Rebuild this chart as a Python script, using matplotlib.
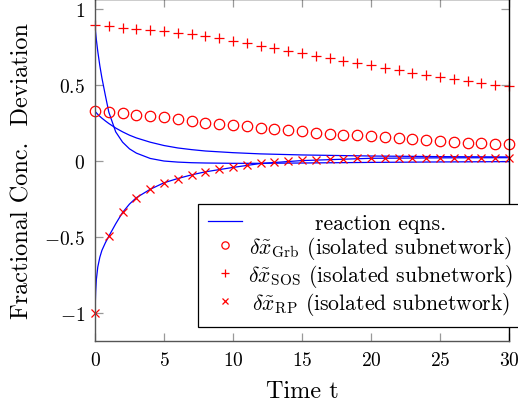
import matplotlib
matplotlib.use('Agg')
import matplotlib.pyplot as plt

outfile = 'out.png'

# sample times of the subnetwork markers
t_pts = list(range(31))
grb_pts = [0.329, 0.322, 0.312, 0.301, 0.292, 0.285, 0.272, 0.260, 0.251, 0.242,
           0.235, 0.228, 0.218, 0.209, 0.200, 0.193, 0.185, 0.178, 0.171, 0.166,
           0.160, 0.154, 0.148, 0.141, 0.135, 0.129, 0.123, 0.118, 0.115, 0.112, 0.110]
sos_pts = [0.890, 0.884, 0.874, 0.866, 0.859, 0.852, 0.842, 0.833, 0.822, 0.806,
           0.790, 0.775, 0.757, 0.741, 0.724, 0.710, 0.692, 0.675, 0.659, 0.645,
           0.628, 0.611, 0.597, 0.580, 0.566, 0.551, 0.537, 0.525, 0.510, 0.498, 0.490]
rp_pts = [-1.000, -0.497, -0.340, -0.243, -0.188, -0.145, -0.117, -0.093, -0.073, -0.056,
          -0.044, -0.029, -0.018, -0.011, -0.005, 0.002, 0.006, 0.010, 0.013, 0.015,
          0.017, 0.017, 0.018, 0.018, 0.019, 0.019, 0.019, 0.019, 0.020, 0.020, 0.020]

# full reaction equations
t_eq = [0, 0.05, 0.1, 0.2, 0.35, 0.5, 0.75, 1, 1.5, 2, 2.5, 3, 4, 5, 6, 7, 8,
        10, 12, 15, 20, 25, 30]
grb_eq = [0.325, 0.32, 0.315, 0.305, 0.292, 0.28, 0.262, 0.245, 0.215, 0.19, 0.168,
          0.15, 0.122, 0.10, 0.084, 0.073, 0.064, 0.053, 0.045, 0.038, 0.031, 0.027, 0.025]
sos_eq = [0.89, 0.84, 0.795, 0.72, 0.625, 0.545, 0.43, 0.32, 0.19, 0.122, 0.078,
          0.05, 0.015, -0.002, -0.009, -0.013, -0.015, -0.017, -0.017, -0.015,
          -0.011, -0.008, -0.006]
rp_eq = [-1.0, -0.86, -0.78, -0.70, -0.635, -0.59, -0.54, -0.497, -0.415, -0.34,
         -0.285, -0.243, -0.188, -0.145, -0.117, -0.093, -0.073, -0.044, -0.018,
         0.001, 0.016, 0.019, 0.020]

xticks = [0, 5, 10, 15, 20, 25, 30]
yticks = [-1, -0.5, 0, 0.5, 1]
yticklabels = ['$-1$', '$-0.5$', '$0$', '$0.5$', '$1$']

labels = ['reaction eqns.',
          r'$\delta\tilde{x}_{\mathrm{Grb}}$ (isolated subnetwork)',
          r'$\delta\tilde{x}_{\mathrm{SOS}}$ (isolated subnetwork)',
          r'$\delta\tilde{x}_{\mathrm{RP}}$ (isolated subnetwork)']

plt.rcParams['font.family'] = 'serif'
plt.rcParams['font.serif'] = ['cmr10']
plt.rcParams['mathtext.fontset'] = 'cm'
plt.rcParams['axes.formatter.use_mathtext'] = True

fig = plt.figure(figsize=(5.18, 4.10), dpi=100)
ax = fig.add_axes([95/518, 1-342/410, (509-95)/518, 342/410])

blue = '#0000ff'; red = '#ff0000'
line, = ax.plot(t_eq, grb_eq, color=blue, lw=0.9)
ax.plot(t_eq, sos_eq, color=blue, lw=0.9)
ax.plot(t_eq, rp_eq, color=blue, lw=0.9)
m1, = ax.plot(t_pts, grb_pts, 'o', mfc='none', mec=red, mew=0.9, ms=7.5, clip_on=False)
m2, = ax.plot(t_pts, sos_pts, '+', color=red, mew=0.9, ms=7.5, clip_on=False)
m3, = ax.plot(t_pts, rp_pts, 'x', color=red, mew=0.9, ms=5.5, clip_on=False)

ax.set_xlim(0, 30)
ax.set_ylim(-1.186, 1.064)
ax.set_xticks(xticks)
ax.set_xticklabels(['$%d$' % x for x in xticks])
ax.set_yticks(yticks)
ax.set_yticklabels(yticklabels)
ax.tick_params(direction='in', length=6, width=0.9, color='#999999',
               labelsize=14, top=True, right=True)
ax.tick_params(axis='y', pad=7)
ax.tick_params(axis='x', pad=7)
for side in ['left', 'bottom']:
    ax.spines[side].set_color('#555555')
for side in ax.spines:
    ax.spines[side].set_linewidth(1.0)

ax.set_xlabel('Time t', fontsize=17.5, labelpad=8)
ax.set_ylabel('Fractional Conc.  Deviation', fontsize=17.5, labelpad=8)

leg = ax.legend([line, m1, m2, m3], labels, loc='upper left',
                bbox_to_anchor=(198/518, 1-205/410), bbox_transform=fig.transFigure,
                borderaxespad=0, fontsize=15.6, fancybox=False, framealpha=1,
                edgecolor='black', handlelength=1.6, markerscale=0.7,
                labelspacing=0.045, borderpad=0.44, handletextpad=0.28)
leg.get_frame().set_linewidth(0.9)

# centre the entry texts in their column
fig.canvas.draw()
renderer = fig.canvas.get_renderer()
widths = [t.get_window_extent(renderer).width for t in leg.get_texts()]
for t, w in zip(leg.get_texts(), widths):
    t.set_position(((max(widths) - w) / 2, 0))

plt.savefig(outfile, dpi=100)
